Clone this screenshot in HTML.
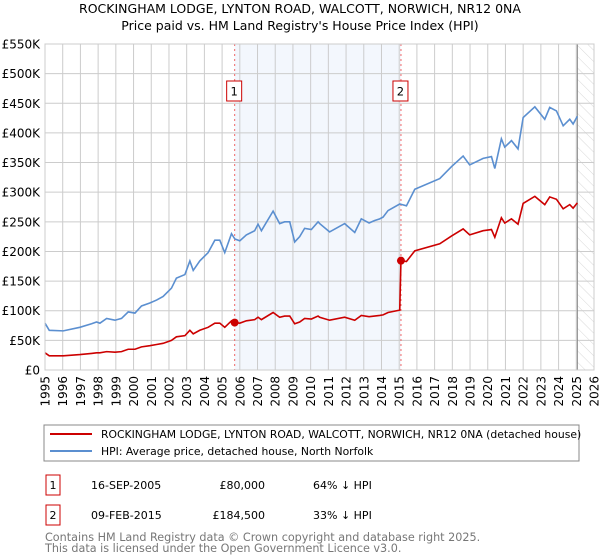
<!DOCTYPE html>
<html><head><meta charset="utf-8"><style>
body{margin:0;background:#fff}
svg{display:block;font-family:"DejaVu Sans","Liberation Sans",sans-serif}
</style></head><body>
<svg id="chart" width="600" height="560" viewBox="0 0 600 560">
<text x="300" y="13" text-anchor="middle" font-size="12.5">ROCKINGHAM LODGE, LYNTON ROAD, WALCOTT, NORWICH, NR12 0NA</text>
<text x="300" y="30" text-anchor="middle" font-size="12.5">Price paid vs. HM Land Registry's House Price Index (HPI)</text>
<defs><pattern id="hatch" width="8" height="8" patternUnits="userSpaceOnUse" patternTransform="rotate(-45)"><line x1="0" y1="0" x2="0" y2="8" stroke="#d8d8d8" stroke-width="1"/></pattern></defs>
<g id="plot"></g>
<rect x="44" y="425" width="535" height="36" fill="none" stroke="#888"/>
<line x1="50" y1="434" x2="92" y2="434" stroke="#cc0000" stroke-width="2"/>
<text x="101" y="438" font-size="10.8">ROCKINGHAM LODGE, LYNTON ROAD, WALCOTT, NORWICH, NR12 0NA (detached house)</text>
<line x1="50" y1="451" x2="92" y2="451" stroke="#5b8fd0" stroke-width="2"/>
<text x="101" y="455" font-size="10.8">HPI: Average price, detached house, North Norfolk</text>
<g font-size="11">
<rect x="46" y="475" width="14" height="20" fill="none" stroke="#cc0000"/>
<text x="53" y="489" text-anchor="middle">1</text>
<text x="91" y="489">16-SEP-2005</text>
<text x="265" y="489" text-anchor="end">£80,000</text>
<text x="313" y="489">64% ↓ HPI</text>
<rect x="46" y="505" width="14" height="20" fill="none" stroke="#cc0000"/>
<text x="53" y="519" text-anchor="middle">2</text>
<text x="91" y="519">09-FEB-2015</text>
<text x="265" y="519" text-anchor="end">£184,500</text>
<text x="313" y="519">33% ↓ HPI</text>
</g>
<text x="45" y="541" font-size="11.2" fill="#777">Contains HM Land Registry data © Crown copyright and database right 2025.</text>
<text x="45" y="552" font-size="11.2" fill="#777">This data is licensed under the Open Government Licence v3.0.</text>
</svg>
<script>
const yTicks=[0,50,100,150,200,250,300,350,400,450,500,550];
const yTickLabels=["£0","£50K","£100K","£150K","£200K","£250K","£300K","£350K","£400K","£450K","£500K","£550K"];
const xTicks=[1995,1996,1997,1998,1999,2000,2001,2002,2003,2004,2005,2006,2007,2008,2009,2010,2011,2012,2013,2014,2015,2016,2017,2018,2019,2020,2021,2022,2023,2024,2025,2026];
const hpiYears=[1995.0,1995.24,1996.03,1996.97,1997.63,1997.91,1998.1,1998.48,1998.95,1999.32,1999.7,2000.08,2000.45,2000.92,2001.3,2001.67,2002.14,2002.42,2002.9,2003.18,2003.37,2003.74,2004.21,2004.59,2004.87,2005.15,2005.53,2005.72,2006.0,2006.37,2006.84,2007.03,2007.22,2007.88,2008.25,2008.53,2008.82,2009.1,2009.38,2009.66,2010.04,2010.42,2010.51,2011.07,2011.92,2012.49,2012.86,2013.3,2013.6,2013.9,2014.09,2014.37,2015.03,2015.41,2015.88,2017.29,2017.95,2018.61,2018.98,2019.74,2020.21,2020.4,2020.77,2020.96,2021.34,2021.71,2022.0,2022.66,2023.22,2023.5,2023.88,2024.26,2024.63,2024.82,2025.06];
const hpiValues=[79,67,66,72,78,81,79,87,84,87,98,96,108,113,118,124,138,155,161,184,168,184,198,219,219,198,230,221,218,228,235,246,235,268,247,250,250,216,225,239,237,250,247,233,247,232,255,248,252,255,258,269,280,277,305,323,343,361,346,357,360,340,390,376,387,373,426,444,423,443,437,412,423,415,428];
const propYears=[1995.0,1995.24,1996.03,1996.97,1997.63,1997.91,1998.1,1998.48,1998.95,1999.32,1999.7,2000.08,2000.45,2000.92,2001.3,2001.67,2002.14,2002.42,2002.9,2003.18,2003.37,2003.74,2004.21,2004.59,2004.87,2005.15,2005.53,2005.72,2006.0,2006.37,2006.84,2007.03,2007.22,2007.88,2008.25,2008.53,2008.82,2009.1,2009.38,2009.66,2010.04,2010.42,2010.51,2011.07,2011.92,2012.49,2012.86,2013.3,2013.6,2013.9,2014.09,2014.37,2015.03,2015.1,2015.41,2015.88,2017.29,2017.95,2018.61,2018.98,2019.74,2020.21,2020.4,2020.77,2020.96,2021.34,2021.71,2022.0,2022.66,2023.22,2023.5,2023.88,2024.26,2024.63,2024.82,2025.06];
const propValues=[29,24,24,26,28,29,29,31,30,31,35,35,39,41,43,45,50,56,58,67,61,67,72,79,79,72,83,80,79,83,85,89,85,97,89,91,91,78,81,87,86,91,89,84,89,84,92,90,91,92,93,97,101,184.5,183,201,213,226,238,228,235,237,224,257,248,255,246,281,293,279,292,288,272,279,273,282];
const saleYears=[2005.71,2015.1];
const saleValues=[80,184.5];
const saleLabels=["1","2"];
const forecastStart=2025.06;

const NS="http://www.w3.org/2000/svg";
const X0=45,X1=594,Y0=370,Y1=44;
const xs=y=>X0+(y-1995)/(2026-1995)*(X1-X0);
const ys=v=>Y0-v/550*(Y0-Y1);
const g=document.getElementById('plot');
function mk(t,a){const e=document.createElementNS(NS,t);for(const k in a)e.setAttribute(k,a[k]);g.appendChild(e);return e;}
let e=mk('rect',{x:xs(saleYears[0]),y:Y1,width:xs(saleYears[1])-xs(saleYears[0]),height:Y0-Y1,fill:'#eef3fc',opacity:0.7});


e=mk('rect',{x:xs(forecastStart),y:Y1,width:X1-xs(forecastStart),height:Y0-Y1,fill:'url(#hatch)'});


yTicks.forEach((v,i)=>{
 e=mk('line',{x1:X0,x2:X1,y1:ys(v),y2:ys(v),stroke:'#ccc'});
 
 
 e=mk('text',{x:40,y:ys(v)+4.5,'text-anchor':'end','font-size':'12'});e.textContent=yTickLabels[i];
 
 
});
xTicks.forEach(y=>{
 e=mk('line',{x1:xs(y),x2:xs(y),y1:Y1,y2:Y0,stroke:'#ccc'});
 
 
 e=mk('text',{x:0,y:0,'text-anchor':'end','font-size':'12',transform:`translate(${xs(y)+4.5},376) rotate(-90)`});e.textContent=y;
 
 
});
e=mk('line',{x1:xs(forecastStart),x2:xs(forecastStart),y1:Y1,y2:Y0,stroke:'#888'});


saleYears.forEach((y,i)=>{
 e=mk('line',{x1:xs(y),x2:xs(y),y1:Y1,y2:Y0,stroke:'#e66',"stroke-dasharray":'2,3'});
 
 
 e=mk('rect',{x:xs(y)-8,y:81,width:15,height:20,fill:'#fff',stroke:'#cc0000'});
 
 
 e=mk('text',{x:xs(y)-0.5,y:95.5,'text-anchor':'middle','font-size':'11.5'});e.textContent=saleLabels[i];
 
 
});
e=mk('polyline',{points:hpiYears.map((y,i)=>xs(y)+','+ys(hpiValues[i])).join(' '),fill:'none',stroke:'#5b8fd0','stroke-width':1.6});


e=mk('polyline',{points:propYears.map((y,i)=>xs(y)+','+ys(propValues[i])).join(' '),fill:'none',stroke:'#cc0000','stroke-width':1.6});


saleYears.forEach((y,i)=>{
 e=mk('circle',{cx:xs(y),cy:ys(saleValues[i]),r:4,fill:'#cc0000'});
 
 
});
e=mk('rect',{x:X0,y:Y1,width:X1-X0,height:Y0-Y1,fill:'none',stroke:'#ccc'});


</script>
</body></html>
